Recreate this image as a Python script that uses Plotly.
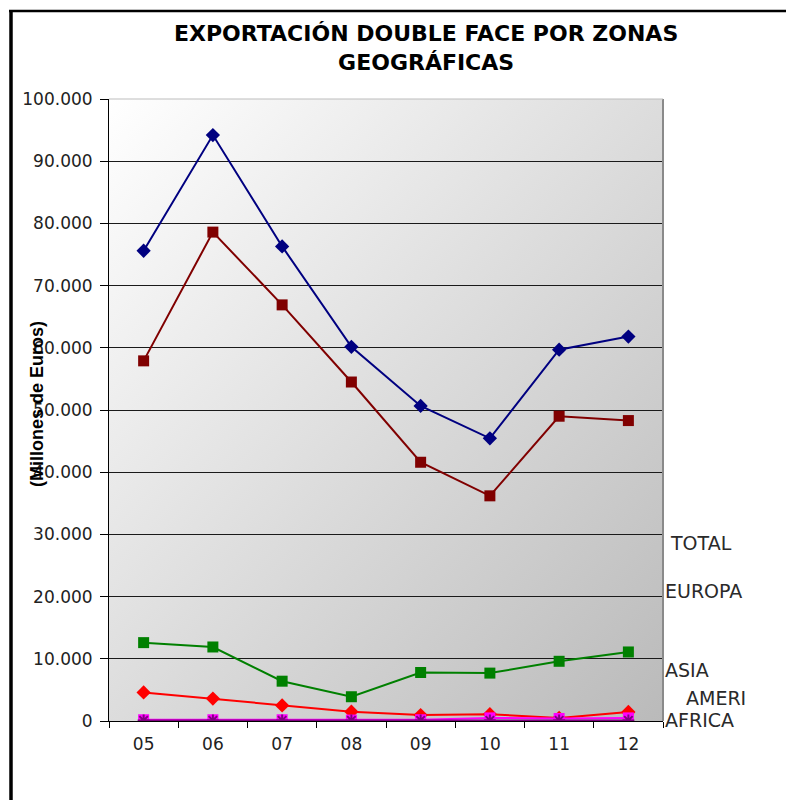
import base64
import plotly.graph_objects as go

# ---------------- data ----------------
years = ["05", "06", "07", "08", "09", "10", "11", "12"]
total = [75600, 94200, 76300, 60150, 50650, 45450, 59700, 61800]
europa = [57900, 78600, 66900, 54500, 41600, 36200, 49000, 48300]
asia = [12600, 11900, 6400, 3900, 7800, 7700, 9600, 11100]
america = [4600, 3600, 2500, 1500, 950, 1100, 500, 1450]
africa = [200, 200, 200, 150, 200, 500, 400, 500]
otros = [100, 100, 100, 100, 100, 100, 100, 100]
y_ticks = [0, 10000, 20000, 30000, 40000, 50000, 60000, 70000, 80000, 90000, 100000]

title_text = "<b>EXPORTACIÓN DOUBLE FACE POR ZONAS<br>GEOGRÁFICAS</b>"
y_title = "(Millones de Euros)"
right_labels = ["TOTAL", "EUROPA", "ASIA", "AMERI", "AFRICA"]

# ---------------- layout geometry (page pixels) ----------------
OFF = 8                       # default body margin of the html page
W, H = 794 - OFF, 800 - OFF   # figure size
L, R, T, B = 109, 663, 99, 721  # plot area in page pixels
pw, ph = R - L, B - T


def px(x):
    return (x - L) / pw


def py(y):
    return (B - y) / ph


FONT = "DejaVu Sans, Verdana, Arial, sans-serif"
FONT_B = "Liberation Sans, Arial, sans-serif"

fig = go.Figure()

series = [
    ("TOTAL", total, "#000080", "diamond", 11),
    ("EUROPA", europa, "#800000", "square", 11),
    ("ASIA", asia, "#008000", "square", 11),
    ("AMERICA", america, "#FF0000", "diamond", 11),
    ("AFRICA", africa, "#FF00FF", "square", 11),
]
for name, vals, col, sym, sz in series:
    fig.add_trace(go.Scatter(
        x=years, y=vals, name=name, mode="lines+markers",
        line=dict(color=col, width=2),
        marker=dict(symbol=sym, size=sz, color=col, line=dict(width=0)),
        showlegend=False,
    ))
fig.add_trace(go.Scatter(
    x=years, y=otros, name="OTROS", mode="lines+markers",
    line=dict(color="#800080", width=2),
    marker=dict(symbol="asterisk", size=10, color="#800080",
                line=dict(width=2, color="#800080")),
    showlegend=False,
))

# gradient background for plot area
svg = (
    '<svg xmlns="http://www.w3.org/2000/svg" width="100" height="100" '
    'viewBox="0 0 100 100" preserveAspectRatio="none">'
    '<defs><linearGradient id="g" x1="0" y1="0" x2="1" y2="1">'
    '<stop offset="0" stop-color="#ffffff"/>'
    '<stop offset="1" stop-color="#bababa"/>'
    '</linearGradient></defs>'
    '<rect x="0" y="0" width="100" height="100" fill="url(#g)"/></svg>'
)
src = "data:image/svg+xml;base64," + base64.b64encode(svg.encode()).decode()

annotations = [
    dict(text=title_text, x=px(426), y=py(48), xref="paper", yref="paper",
         showarrow=False, xanchor="center", yanchor="middle",
         font=dict(family=FONT, size=22, color="#000000")),
    dict(text="<b>" + y_title + "</b>", x=px(37), y=py(404), xref="paper",
         yref="paper", showarrow=False, textangle=-90,
         xanchor="center", yanchor="middle",
         font=dict(family=FONT_B, size=18, color="#000000")),
]
label_pos = [(668, 543), (663, 591), (663, 670), (684, 698), (663, 720)]
for txt, (lx, ly) in zip(right_labels, label_pos):
    annotations.append(dict(
        text=txt, x=px(lx), y=py(ly), xref="paper", yref="paper",
        showarrow=False, xanchor="left", yanchor="middle",
        font=dict(family=FONT, size=19, color="#2a2a2a")))

shapes = [
    # plot area right / top edges (gray)
    dict(type="line", xref="paper", yref="paper", x0=1, x1=1, y0=0, y1=1,
         line=dict(color="#8a8a8a", width=2)),
    dict(type="line", xref="paper", yref="paper", x0=0, x1=1, y0=1, y1=1,
         line=dict(color="#bdbdbd", width=1)),
    # outer frame (top and left)
    dict(type="line", xref="paper", yref="paper", x0=px(9), x1=px(800),
         y0=py(11), y1=py(11), line=dict(color="#000000", width=2.5)),
    dict(type="line", xref="paper", yref="paper", x0=px(11), x1=px(11),
         y0=py(10), y1=py(805), line=dict(color="#000000", width=3.5)),
]

fig.update_layout(
    width=W, height=H,
    margin=dict(l=L - OFF, r=794 - R, t=T - OFF, b=800 - B),
    paper_bgcolor="#ffffff",
    plot_bgcolor="rgba(0,0,0,0)",
    separators=",.",
    font=dict(family=FONT, size=17, color="#222222"),
    images=[dict(source=src, xref="paper", yref="paper", x=0, y=1,
                 sizex=1, sizey=1, sizing="stretch", layer="below",
                 xanchor="left", yanchor="top")],
    annotations=annotations,
    shapes=shapes,
    xaxis=dict(
        type="category", categoryorder="array", categoryarray=years,
        range=[-0.5, len(years) - 0.5],
        showgrid=False, zeroline=False,
        showline=True, linecolor="#000000", linewidth=1,
        ticks="outside", tickson="boundaries", ticklen=6,
        tickcolor="#000000", tickwidth=1, ticklabelstandoff=8,
        tickfont=dict(family=FONT, size=17, color="#222222"),
    ),
    yaxis=dict(
        range=[0, 100000], tickvals=y_ticks, tickformat=",",
        showgrid=True, gridcolor="#1a1a1a", gridwidth=1,
        zeroline=False,
        showline=True, linecolor="#000000", linewidth=1,
        ticks="outside", ticklen=8, tickcolor="#000000", tickwidth=1,
        ticklabelstandoff=4,
        tickfont=dict(family=FONT, size=17, color="#222222"),
    ),
)

fig.write_html("out.html")
